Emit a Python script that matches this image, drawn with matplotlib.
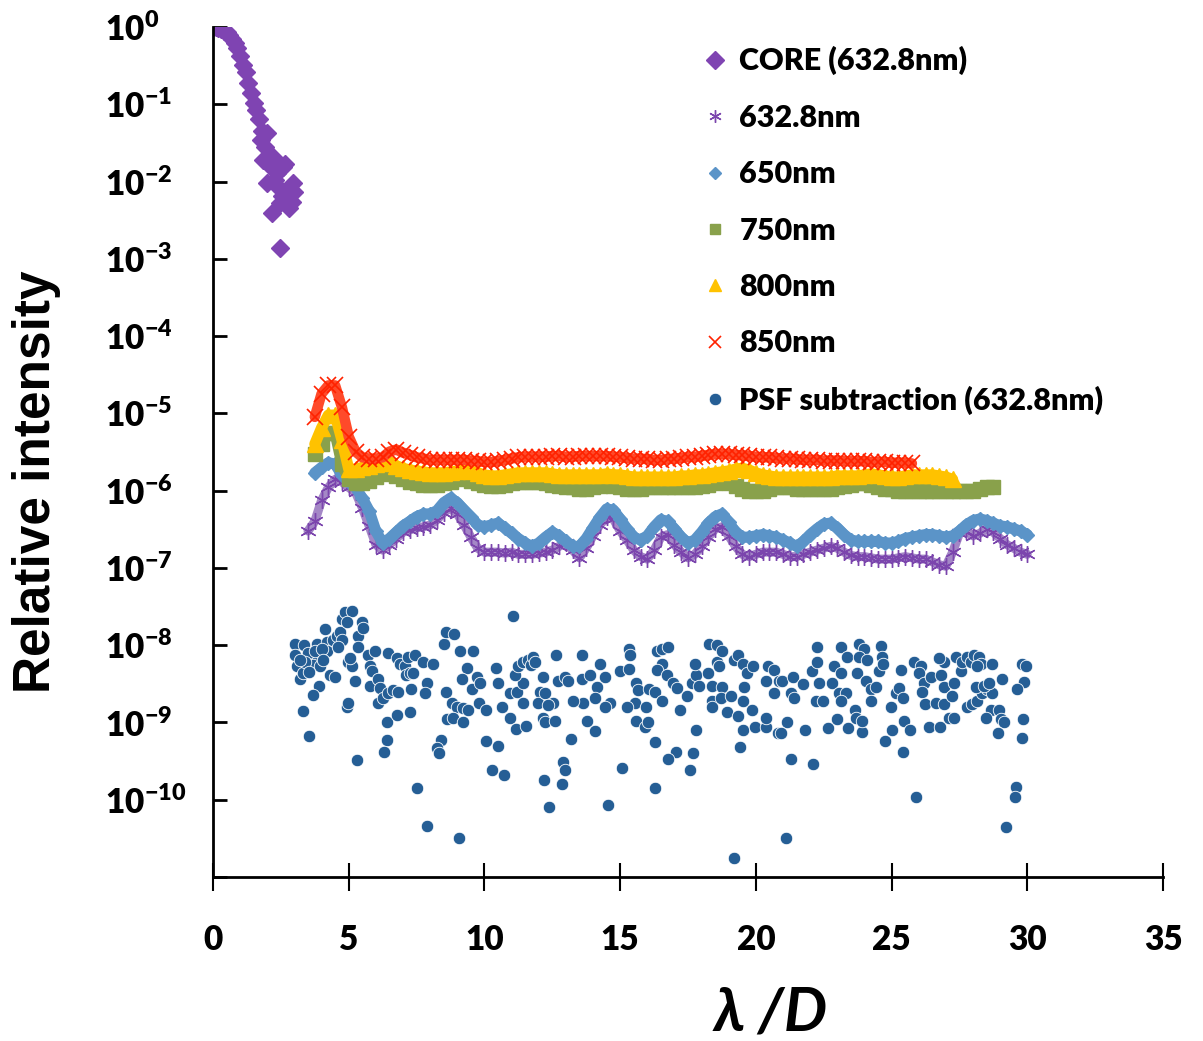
import numpy as np
import matplotlib.pyplot as plt

plt.rcParams['font.family'] = ['Lato', 'DejaVu Sans']
plt.rcParams['font.weight'] = 'heavy'
plt.rcParams['mathtext.fontset'] = 'custom'
plt.rcParams['mathtext.rm'] = 'Lato:heavy'
plt.rcParams['mathtext.bf'] = 'Lato:heavy'
plt.rcParams['mathtext.it'] = 'Lato:italic:heavy'

# ---- core profile (632.8nm) ----
core_x = [0.0, 0.1, 0.2, 0.3, 0.4, 0.5, 0.6, 0.7, 0.8, 0.9, 1.0, 1.1, 1.2, 1.3,
          1.4, 1.5, 1.6, 1.7, 1.8, 1.75, 1.9, 2.0, 1.85, 2.2, 2.0, 2.35, 2.58,
          2.65, 2.17, 2.47, 2.95, 2.72, 3.0, 2.47, 2.1, 2.3, 2.4, 2.55, 2.8, 2.9]
core_y = [1.0, 0.99, 0.97, 0.94, 0.9, 0.85, 0.78, 0.7, 0.62, 0.53, 0.42, 0.32,
          0.26, 0.19, 0.14, 0.105, 0.085, 0.065, 0.045, 0.035, 0.028, 0.042,
          0.019, 0.021, 0.0095, 0.013, 0.0155, 0.017, 0.0039, 0.0052, 0.0095,
          0.007, 0.0074, 0.0014, 0.016, 0.0105, 0.0085, 0.0065, 0.0045, 0.0055]

# ---- halo profiles, sampled every 0.25 lambda/D ----
step = 0.25

start_633 = 3.5
halo_633 = [3.0e-7, 4.0e-7, 7.5e-7, 1.1e-6, 1.4e-6, 1.3e-6, 1.1e-6, 9.5e-7, 6e-7,
            3.5e-7, 2.0e-7, 1.7e-7, 2.0e-7, 2.4e-7, 2.9e-7, 3.1e-7, 3.3e-7,
            3.4e-7, 3.6e-7, 4.2e-7, 5.2e-7, 6e-7, 5.0e-7, 3.6e-7, 2.5e-7,
            1.8e-7, 1.6e-7, 1.6e-7, 1.6e-7, 1.55e-7, 1.6e-7, 1.5e-7, 1.5e-7,
            1.5e-7, 1.55e-7, 1.6e-7, 1.7e-7, 1.9e-7, 2.1e-7, 1.7e-7, 1.35e-7,
            1.8e-7, 2.6e-7, 3.6e-7, 4.5e-7, 4.3e-7, 3.0e-7, 2.3e-7, 1.7e-7,
            1.4e-7, 1.3e-7, 1.7e-7, 2.5e-7, 2.7e-7, 2.0e-7, 1.6e-7, 1.35e-7,
            1.5e-7, 1.9e-7, 2.5e-7, 3.2e-7, 3.4e-7, 2.6e-7, 1.9e-7, 1.5e-7,
            1.4e-7, 1.5e-7, 1.6e-7, 1.6e-7, 1.6e-7, 1.5e-7, 1.4e-7, 1.4e-7,
            1.5e-7, 1.6e-7, 1.7e-7, 1.8e-7, 1.9e-7, 1.8e-7, 1.6e-7, 1.45e-7,
            1.4e-7, 1.4e-7, 1.35e-7, 1.3e-7, 1.3e-7, 1.3e-7, 1.35e-7, 1.4e-7,
            1.35e-7, 1.3e-7, 1.3e-7, 1.2e-7, 1.1e-7, 1.05e-7, 1.6e-7, 2.8e-7,
            3.0e-7, 2.6e-7, 2.8e-7, 3.2e-7, 2.9e-7, 2.4e-7, 2.0e-7, 1.8e-7,
            1.6e-7, 1.5e-7]

start_650 = 3.75
halo_650 = [1.7e-6, 2.0e-6, 2.3e-6, 2.2e-6, 1.6e-6, 1.3e-6, 1.1e-6, 8e-7, 5.5e-7,
            3.0e-7, 2.1e-7, 2.4e-7, 2.9e-7, 3.5e-7, 4.0e-7, 4.6e-7, 5.0e-7,
            5.0e-7, 5.5e-7, 7e-7, 8e-7, 7e-7, 5.6e-7, 4.5e-7, 3.6e-7, 3.4e-7,
            3.6e-7, 3.8e-7, 3.3e-7, 2.8e-7, 2.4e-7, 2.1e-7, 1.9e-7, 2.1e-7,
            2.5e-7, 2.9e-7, 2.6e-7, 2.2e-7, 1.9e-7, 1.9e-7, 2.4e-7, 3.3e-7,
            4.5e-7, 5.8e-7, 5.6e-7, 4.3e-7, 3.2e-7, 2.5e-7, 2.3e-7, 2.6e-7,
            3.4e-7, 4.2e-7, 4.0e-7, 3.2e-7, 2.5e-7, 2.1e-7, 2.3e-7, 2.9e-7,
            3.8e-7, 4.6e-7, 5.0e-7, 3.9e-7, 2.9e-7, 2.5e-7, 2.5e-7, 2.6e-7,
            2.7e-7, 2.6e-7, 2.5e-7, 2.3e-7, 2.1e-7, 1.9e-7, 2.2e-7, 2.7e-7,
            3.2e-7, 3.7e-7, 3.8e-7, 3.3e-7, 2.7e-7, 2.3e-7, 2.2e-7, 2.2e-7,
            2.2e-7, 2.2e-7, 2.1e-7, 2.1e-7, 2.2e-7, 2.4e-7, 2.5e-7, 2.6e-7,
            2.7e-7, 2.7e-7, 2.6e-7, 2.5e-7, 2.6e-7, 3.0e-7, 3.6e-7, 4.1e-7,
            4.3e-7, 4.1e-7, 3.8e-7, 3.5e-7, 3.4e-7, 3.2e-7, 3.0e-7, 2.7e-7]

start_750 = 3.75
halo_750 = [3.0e-6, 4.0e-6, 5.5e-6, 5.5e-6, 2.2e-6, 1.4e-6, 1.25e-6, 1.25e-6,
            1.35e-6, 1.5e-6, 1.65e-6, 1.75e-6, 1.55e-6, 1.4e-6, 1.3e-6, 1.25e-6,
            1.2e-6, 1.2e-6, 1.2e-6, 1.25e-6, 1.3e-6, 1.4e-6, 1.45e-6, 1.35e-6,
            1.25e-6, 1.2e-6, 1.15e-6, 1.15e-6, 1.2e-6, 1.25e-6, 1.3e-6, 1.3e-6,
            1.3e-6, 1.3e-6, 1.25e-6, 1.2e-6, 1.15e-6, 1.1e-6, 1.1e-6, 1.05e-6,
            1.05e-6, 1.1e-6, 1.15e-6, 1.2e-6, 1.15e-6, 1.1e-6, 1.05e-6, 1.05e-6,
            1.05e-6, 1.1e-6, 1.1e-6, 1.1e-6, 1.1e-6, 1.1e-6, 1.1e-6, 1.1e-6,
            1.1e-6, 1.15e-6, 1.2e-6, 1.25e-6, 1.3e-6, 1.25e-6, 1.15e-6, 1.05e-6,
            1.0e-6, 1.0e-6, 1.0e-6, 1.05e-6, 1.1e-6, 1.1e-6, 1.1e-6, 1.05e-6,
            1.05e-6, 1.05e-6, 1.05e-6, 1.05e-6, 1.05e-6, 1.1e-6, 1.15e-6,
            1.2e-6, 1.25e-6, 1.25e-6, 1.2e-6, 1.1e-6, 1.05e-6, 1.05e-6, 1.0e-6,
            1.0e-6, 1.0e-6, 1.0e-6, 1.0e-6, 1.0e-6, 1.0e-6, 0.98e-6, 0.98e-6,
            0.98e-6, 1.0e-6, 1.0e-6, 1.05e-6, 1.1e-6, 1.1e-6]

start_800 = 3.75
halo_800 = [4.0e-6, 6.5e-6, 9.5e-6, 9.5e-6, 4.5e-6, 1.9e-6, 1.9e-6, 2.0e-6,
            2.1e-6, 2.2e-6, 2.3e-6, 2.4e-6, 2.1e-6, 1.95e-6, 1.85e-6, 1.8e-6,
            1.75e-6, 1.7e-6, 1.7e-6, 1.7e-6, 1.75e-6, 1.8e-6, 1.85e-6, 1.8e-6,
            1.7e-6, 1.6e-6, 1.55e-6, 1.55e-6, 1.6e-6, 1.65e-6, 1.7e-6, 1.7e-6,
            1.7e-6, 1.7e-6, 1.7e-6, 1.65e-6, 1.6e-6, 1.6e-6, 1.6e-6, 1.6e-6,
            1.6e-6, 1.6e-6, 1.6e-6, 1.65e-6, 1.6e-6, 1.6e-6, 1.55e-6, 1.5e-6,
            1.5e-6, 1.5e-6, 1.5e-6, 1.5e-6, 1.5e-6, 1.5e-6, 1.55e-6, 1.55e-6,
            1.6e-6, 1.6e-6, 1.65e-6, 1.7e-6, 1.75e-6, 1.8e-6, 1.9e-6, 1.95e-6,
            1.85e-6, 1.7e-6, 1.6e-6, 1.55e-6, 1.5e-6, 1.5e-6, 1.5e-6, 1.5e-6,
            1.5e-6, 1.5e-6, 1.5e-6, 1.5e-6, 1.5e-6, 1.55e-6, 1.55e-6, 1.55e-6,
            1.55e-6, 1.6e-6, 1.65e-6, 1.6e-6, 1.55e-6, 1.5e-6, 1.5e-6, 1.55e-6,
            1.6e-6, 1.6e-6, 1.6e-6, 1.6e-6, 1.55e-6, 1.5e-6, 1.4e-6]

start_850 = 3.75
halo_850 = [9e-6, 1.8e-5, 2.3e-5, 2.3e-5, 1.2e-5, 5e-6, 3.2e-6, 2.7e-6, 2.6e-6,
            2.6e-6, 2.7e-6, 3.2e-6, 3.4e-6, 3.1e-6, 2.9e-6, 2.7e-6, 2.6e-6,
            2.5e-6, 2.5e-6, 2.5e-6, 2.5e-6, 2.5e-6, 2.5e-6, 2.45e-6, 2.4e-6,
            2.35e-6, 2.35e-6, 2.4e-6, 2.5e-6, 2.6e-6, 2.7e-6, 2.75e-6, 2.75e-6,
            2.75e-6, 2.75e-6, 2.8e-6, 2.8e-6, 2.75e-6, 2.75e-6, 2.8e-6, 2.8e-6,
            2.8e-6, 2.8e-6, 2.8e-6, 2.75e-6, 2.7e-6, 2.65e-6, 2.6e-6, 2.6e-6,
            2.55e-6, 2.5e-6, 2.5e-6, 2.55e-6, 2.6e-6, 2.65e-6, 2.7e-6, 2.75e-6,
            2.8e-6, 2.9e-6, 2.95e-6, 3.0e-6, 2.95e-6, 2.9e-6, 2.85e-6, 2.8e-6,
            2.75e-6, 2.7e-6, 2.7e-6, 2.65e-6, 2.6e-6, 2.6e-6, 2.55e-6, 2.5e-6,
            2.5e-6, 2.5e-6, 2.45e-6, 2.45e-6, 2.45e-6, 2.4e-6, 2.4e-6, 2.4e-6,
            2.4e-6, 2.35e-6, 2.35e-6, 2.35e-6, 2.3e-6, 2.3e-6, 2.3e-6, 2.25e-6]

# ---- residual after PSF subtraction (632.8nm) ----
psf_x = [3.02, 3.35, 3.02, 3.09, 3.20, 3.30, 3.64, 3.68, 3.83, 3.94, 3.90, 3.68,
         3.31, 3.53, 4.12, 4.20, 4.20, 4.31, 4.42, 4.49, 4.56, 4.67, 4.75, 4.86,
         5.12, 4.93, 4.75, 4.97, 5.12, 5.04, 4.93, 4.97, 5.23, 5.30, 5.34, 5.48,
         5.52, 5.34, 5.70, 5.78, 5.96, 5.85, 5.78, 6.07, 6.15, 6.07, 6.26, 6.44,
         6.63, 6.82, 6.40, 6.41, 6.30, 6.44, 6.77, 6.88, 7.07, 7.10, 7.25, 7.18,
         7.43, 7.36, 7.29, 7.25, 6.77, 7.73, 8.10, 7.88, 7.80, 7.51, 7.88, 8.50,
         8.58, 8.87, 9.09, 9.57, 9.35, 9.16, 8.58, 8.80, 8.98, 9.20, 9.38, 8.61,
         8.83, 9.20, 9.53, 9.72, 9.83, 9.79, 10.05, 8.39, 8.24, 8.32, 9.05,
         10.05, 10.49, 10.27, 10.71, 11.04, 10.42, 10.49, 10.64, 10.93, 11.15,
         11.52, 10.93, 11.19, 11.41, 11.11, 11.23, 11.41, 11.60, 11.70, 11.41,
         3.50, 3.75, 4.00, 3.40, 4.05, 3.55, 4.60, 3.20,
         11.78, 11.85, 12.62, 12.15, 12.70, 12.96, 13.07, 13.58, 13.58, 13.88,
         14.24, 14.43, 14.13, 14.06, 13.62, 13.25, 12.04, 11.96, 12.22, 12.51,
         12.33, 12.15, 12.22, 12.59, 13.77, 14.06, 14.61, 14.43, 13.18, 12.88,
         12.96, 12.18, 12.85, 12.37, 14.57, 15.05, 14.98, 15.31, 15.31, 15.38,
         15.60, 15.64, 15.53, 15.24, 15.57, 15.90, 16.01, 15.97, 16.08, 16.27,
         16.27, 16.27, 16.34, 16.53, 16.75, 16.53, 16.34, 16.71, 16.53, 16.93,
         17.11, 17.22, 17.04, 16.75, 17.67, 17.56, 17.48, 17.63, 17.81, 17.74,
         17.92, 17.81, 18.22, 18.29, 18.55, 18.55, 18.77, 18.66, 18.37, 18.77,
         18.37, 18.40, 18.73, 19.10, 18.95, 19.21, 19.36, 19.51, 19.69, 19.58,
         19.51, 19.36, 19.51, 19.40, 19.91, 19.87, 19.98, 20.39, 20.39, 20.43,
         20.68, 20.39, 20.65, 20.87, 20.83, 19.21, 21.10,
         20.98, 21.35, 21.31, 21.42, 21.13, 20.94, 21.31, 21.75, 21.82, 22.12,
         22.08, 22.27, 22.27, 22.34, 22.23, 22.49, 22.64, 22.82, 22.89, 23.15,
         23.37, 23.15, 23.08, 23.33, 23.15, 23.00, 23.41, 23.67, 23.70, 23.92,
         23.92, 23.81, 24.00, 23.81, 24.11, 23.74, 24.07, 24.25, 24.44, 24.25,
         24.55, 24.62, 24.66, 24.70, 24.77, 25.03, 24.99, 25.17, 25.29, 25.36,
         25.43, 25.47, 25.69, 25.43, 25.91, 25.84, 26.09, 26.02, 26.20, 26.13,
         26.24, 26.39, 26.46, 26.65, 26.79, 26.83, 26.94, 26.94, 26.94, 27.13,
         27.31, 27.24, 27.31, 27.38, 27.57, 27.60, 27.79, 27.94, 28.05, 28.23,
         28.30, 28.16, 27.79, 27.97, 28.16, 28.34, 28.52, 28.71, 28.12, 28.41,
         28.60, 28.71, 28.67, 28.49, 28.97, 29.04, 29.15, 28.93, 29.08, 29.81,
         29.96, 29.89, 29.63, 29.85, 29.81, 29.59, 29.55, 29.22, 26.76]
psf_y = [1.05e-8, 1.0e-8, 7.5e-9, 5.3e-9, 3.7e-9, 4.4e-9, 7.0e-9, 5.5e-9, 1.05e-8,
         5.3e-9, 3.0e-9, 2.3e-9, 1.4e-9, 6.6e-10, 1.6e-8, 1.1e-8, 8.3e-9, 4.1e-9,
         1.15e-8, 3.9e-9, 1.3e-8, 1.5e-8, 2.2e-8, 2.7e-8, 2.8e-8, 2.0e-8, 1.15e-8,
         6.0e-9, 5.3e-9, 6.8e-9, 1.6e-9, 1.8e-9, 3.4e-9, 3.3e-10, 1.3e-8, 2.0e-8,
         1.65e-8, 9.5e-9, 7.5e-9, 5.3e-9, 8.3e-9, 4.6e-9, 3.0e-9, 3.7e-9, 2.8e-9,
         1.8e-9, 2.1e-9, 2.4e-9, 2.6e-9, 2.5e-9, 1.0e-9, 6.0e-10, 4.1e-10, 8.0e-9,
         6.8e-9, 5.7e-9, 5.3e-9, 4.1e-9, 4.4e-9, 7.0e-9, 7.5e-9, 4.4e-9, 2.7e-9,
         1.35e-9, 1.25e-9, 6.1e-9, 5.7e-9, 3.2e-9, 2.4e-9, 1.4e-10, 4.6e-11,
         1.05e-8, 1.5e-8, 1.4e-8, 8.3e-9, 8.3e-9, 5.0e-9, 3.7e-9, 2.5e-9, 1.8e-9,
         1.6e-9, 1.55e-9, 1.45e-9, 1.1e-9, 1.15e-9, 1.0e-9, 2.7e-9, 3.9e-9,
         3.2e-9, 1.8e-9, 1.45e-9, 6.0e-10, 4.7e-10, 4.0e-10, 3.2e-11, 5.8e-10,
         5.0e-10, 2.4e-10, 2.1e-10, 2.4e-8, 5.0e-9, 3.2e-9, 1.6e-9, 1.15e-9,
         8.2e-10, 9.0e-10, 2.4e-9, 2.5e-9, 3.2e-9, 4.1e-9, 5.3e-9, 6.0e-9, 6.4e-9,
         5.5e-9, 1.8e-9,
         8e-9, 8.5e-9, 9e-9, 6e-9, 6.5e-9, 4.5e-9, 9.5e-9, 6.5e-9,
         7.0e-9, 6.0e-9, 7.5e-9, 3.9e-9, 3.4e-9, 3.9e-9, 3.4e-9, 7.5e-9, 3.7e-9,
         4.1e-9, 5.7e-9, 3.9e-9, 2.9e-9, 2.1e-9, 1.8e-9, 1.9e-9, 2.5e-9, 1.8e-9,
         2.4e-9, 1.8e-9, 1.7e-9, 1.15e-9, 1.0e-9, 1.05e-9, 1.05e-9, 7.8e-10,
         1.8e-9, 1.6e-9, 6.1e-10, 3.1e-10, 2.4e-10, 1.8e-10, 1.6e-10, 8.0e-11,
         8.5e-11, 2.6e-10, 4.7e-9, 4.9e-9, 8.8e-9, 7.5e-9, 3.2e-9, 2.6e-9, 1.8e-9,
         1.6e-9, 1.05e-9, 8.8e-10, 1.0e-9, 1.6e-9, 2.7e-9, 2.5e-9, 5.6e-10,
         1.4e-10, 8.3e-9, 8.8e-9, 9.5e-9, 5.7e-9, 4.8e-9, 4.1e-9, 1.9e-9, 3.2e-9,
         2.8e-9, 1.45e-9, 4.1e-10, 3.4e-10, 4.0e-10, 2.4e-10, 2.2e-9, 3.2e-9,
         4.1e-9, 5.7e-9, 3.0e-9, 8.0e-10, 4.4e-9, 1.05e-8, 1.0e-8, 6.0e-9, 8.3e-9,
         5.3e-9, 3.0e-9, 2.9e-9, 1.9e-9, 1.6e-9, 2.1e-9, 2.2e-9, 1.35e-9, 6.4e-9,
         7.4e-9, 5.7e-9, 4.4e-9, 2.9e-9, 1.9e-9, 1.2e-9, 8.0e-10, 4.8e-10, 5.3e-9,
         1.45e-9, 8.8e-10, 8.8e-10, 1.15e-9, 5.3e-9, 4.8e-9, 3.4e-9, 2.4e-9,
         3.4e-9, 7.4e-10, 1.75e-11, 3.2e-11,
         3.4e-9, 3.9e-9, 2.4e-9, 2.1e-9, 1.0e-9, 7.4e-10, 3.4e-10, 3.1e-9, 8.0e-10,
         2.9e-10, 4.6e-9, 6.0e-9, 9.5e-9, 3.2e-9, 1.9e-9, 1.9e-9, 8.5e-10, 3.2e-9,
         5.3e-9, 9.5e-9, 7.0e-9, 4.4e-9, 2.4e-9, 2.4e-9, 1.9e-9, 1.1e-9, 8.5e-10,
         1.45e-9, 1.15e-9, 7.6e-10, 1.05e-9, 1.05e-8, 8.8e-9, 7.0e-9, 6.4e-9,
         4.4e-9, 3.4e-9, 2.7e-9, 2.9e-9, 1.9e-9, 4.6e-9, 9.8e-9, 7.0e-9, 5.7e-9,
         5.8e-10, 8.0e-10, 1.6e-9, 2.4e-9, 2.8e-9, 4.8e-9, 2.1e-9, 1.05e-9,
         8.0e-10, 4.1e-10, 1.1e-10, 6.0e-9, 5.3e-9, 4.4e-9, 3.2e-9, 2.5e-9,
         1.75e-9, 8.8e-10, 3.9e-9, 1.8e-9, 8.8e-10, 4.1e-9, 6.0e-9, 2.9e-9,
         1.75e-9, 1.15e-9, 1.15e-9, 2.2e-9, 3.2e-9, 7.0e-9, 4.6e-9, 6.0e-9, 7.0e-9,
         6.0e-9, 7.5e-9, 7.0e-9, 5.7e-9, 5.3e-9, 1.6e-9, 1.75e-9, 1.9e-9, 2.4e-9,
         2.7e-9, 2.4e-9, 2.9e-9, 3.0e-9, 3.2e-9, 5.7e-9, 1.45e-9, 1.15e-9,
         1.45e-9, 1.1e-9, 1.0e-9, 7.4e-10, 3.7e-9, 5.7e-9, 5.3e-9, 3.3e-9, 2.7e-9,
         1.1e-9, 6.3e-10, 1.45e-10, 1.1e-10, 4.5e-11, 6.8e-9]

ytick_exp = list(range(0, -12, -1))


def halo_x(start, vals):
    return start + step * np.arange(len(vals))


fig = plt.figure(figsize=(12.03, 10.41), dpi=100)
ax = fig.add_axes([213 / 1203, 1 - 877 / 1041, 950 / 1203, 850 / 1041])

ax.plot(core_x, core_y, ls='none', marker='D', ms=9.5, color='#7f44b2',
        mec='#7f44b2', label='CORE (632.8nm)')

# halo series: a wide band under the markers, then the markers themselves
halos = [
    (start_633, halo_633, '632.8nm', '#7b45ad', '#a487c6', 6.5,
     dict(marker=(6, 2, 0), ms=12, mew=1.0)),
    (start_650, halo_650, '650nm', '#5b94c8', '#5b94c8', 8,
     dict(marker='D', ms=7.5)),
    (start_750, halo_750, '750nm', '#89a14b', '#89a14b', 8,
     dict(marker='s', ms=9.5)),
    (start_800, halo_800, '800nm', '#ffc200', '#ffc200', 8,
     dict(marker='^', ms=11)),
    (start_850, halo_850, '850nm', '#ff2200', '#ff4a2a', 7.5,
     dict(marker='x', ms=11, mew=1.2)),
]
for start, vals, name, col, band_col, band_w, mk in halos:
    xs = halo_x(start, vals)
    ax.plot(xs, vals, ls='-', lw=band_w, color=band_col,
            solid_capstyle='round', solid_joinstyle='round',
            label='_nolegend_')
    ax.plot(xs, vals, ls='none', color=col, mec=col, label=name, **mk)

ax.plot(psf_x, psf_y, ls='none', marker='o', ms=9, color='#255e95',
        mec='white', mew=0.6, label='PSF subtraction (632.8nm)')

ax.set_yscale('log')
ax.set_xlim(0, 35)
ax.set_ylim(1e-11, 1e0)
ax.set_xticks(range(0, 36, 5))
ax.set_xticklabels([str(v) for v in range(0, 36, 5)], fontsize=24,
                   fontweight='heavy')
ax.set_yticks([10.0 ** e for e in ytick_exp])
ax.set_yticklabels([r'$\mathbf{10^{%d}}$' % e if e > -11 else ''
                    for e in ytick_exp], fontsize=24)
ax.yaxis.set_minor_locator(plt.NullLocator())
for lbl in ax.get_yticklabels():
    lbl.set_horizontalalignment('left')

ax.tick_params(axis='y', direction='in', length=10, width=2, pad=78)
ax.tick_params(axis='x', direction='inout', length=20, width=1.5, pad=24)

for side in ['top', 'right']:
    ax.spines[side].set_visible(False)
ax.spines['left'].set_linewidth(2)
ax.spines['bottom'].set_linewidth(2)

fig.text(37 / 1203, 1 - 482 / 1041, 'Relative intensity', rotation=90,
         ha='center', va='center', fontsize=37, fontweight='bold',
         family=['Liberation Sans', 'DejaVu Sans'])
fig.text(771 / 1203, 1 - 1012 / 1041, 'λ /D', ha='center', va='center',
         fontsize=44, fontstyle='italic', fontweight='bold')

leg = ax.legend(loc='upper left', bbox_to_anchor=(689 / 1203, 1 - 34 / 1041),
                bbox_transform=fig.transFigure, frameon=False, fontsize=22,
                handlelength=0.9, handletextpad=0.35, labelspacing=0.93,
                borderaxespad=0)
for handle, size in zip(leg.legend_handles, [9, 9, 6.5, 7.5, 9, 9, 9]):
    handle.set_markersize(size)

fig.savefig('out.png', dpi=100)
